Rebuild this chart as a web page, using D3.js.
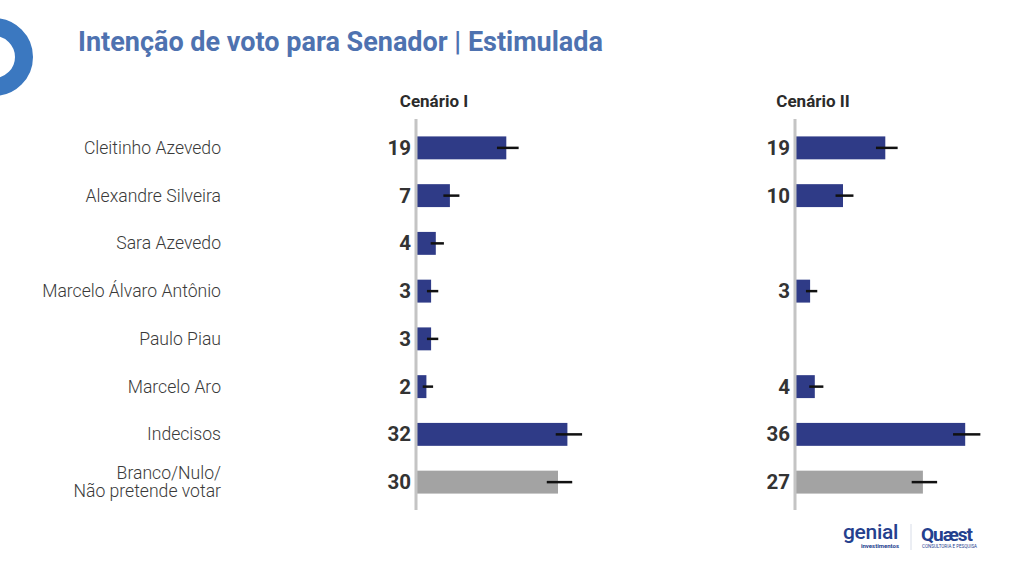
<!DOCTYPE html>
<html>
<head>
<meta charset="utf-8">
<script src="https://cdn.jsdelivr.net/npm/d3@7"></script>
<style>
  body { margin: 0; background: #fff; }
  svg { display: block; font-family: Roboto, "Noto Sans", sans-serif; }
</style>
</head>
<body>
<div id="chart"></div>
<script>
// Data
const candidates = ["Cleitinho Azevedo", "Alexandre Silveira", "Sara Azevedo", "Marcelo Álvaro Antônio",
    "Paulo Piau", "Marcelo Aro", "Indecisos", "Branco/Nulo/|Não pretende votar"];
const scenarios = ["Cenário I", "Cenário II"];
const valuesI = [19, 7, 4, 3, 3, 2, 32, 30];
const valuesII = [19, 10, null, 3, null, 4, 36, 27];
// margin of error (points), estimated from the black whiskers
const errorsI = [2.2, 1.6, 1.3, 1.1, 1.1, 1.0, 2.7, 2.6];
const errorsII = [2.2, 1.8, null, 1.1, null, 1.4, 2.8, 2.6];

const width = 1024;
const height = 574;

const svg = d3.select("#chart")
    .append("svg")
    .attr("width", width)
    .attr("height", height);

// decorative ring at the left edge
svg.append("circle")
    .attr("cx", -6)
    .attr("cy", 57)
    .attr("r", 30)
    .attr("fill", "none")
    .attr("stroke", "#3b78c0")
    .attr("stroke-width", 18);

// Title
svg.append("text")
    .attr("x", 78)
    .attr("y", 51)
    .style("font-size", "27px")
    .style("font-weight", "bold")
    .style("fill", "#4e72b0")
    .text("Intenção de voto para Senador | Estimulada");

// shared scales
const yScale = d3.scaleBand()
    .domain(candidates)
    .range([124, 506])
    .paddingInner(0.52)
    .paddingOuter(0.26);

const xScale = d3.scaleLinear()
    .domain([0, 40])
    .range([0, 188]);

// category labels
const labels = svg.append("g");
candidates.forEach(c => {
    const lines = c.split("|");
    const cy = yScale(c) + yScale.bandwidth() / 2;
    const t = labels.append("text")
        .attr("x", 221)
        .attr("y", cy + 6 - (lines.length - 1) * 9)
        .style("text-anchor", "end")
        .style("font-size", "17.6px")
        .style("font-weight", 300)
        .style("fill", "#3a3a3a");
    lines.forEach((l, i) => {
        t.append("tspan")
            .attr("x", 221)
            .attr("dy", i === 0 ? 0 : 18)
            .text(l);
    });
});

const panels = [
    { name: scenarios[0], x0: 417, values: valuesI, errors: errorsI },
    { name: scenarios[1], x0: 796, values: valuesII, errors: errorsII }
];

panels.forEach(p => {
    const g = svg.append("g")
        .attr("transform", `translate(${p.x0}, 0)`);

    const rows = candidates.map((c, i) => ({ cat: c, value: p.values[i], err: p.errors[i], i: i }))
        .filter(d => d.value !== null);

    // panel header
    g.append("text")
        .attr("x", 17)
        .attr("y", 107)
        .style("text-anchor", "middle")
        .style("font-size", "17px")
        .style("font-weight", "bold")
        .style("fill", "#2b2b2b")
        .text(p.name);

    // bars
    g.selectAll(".bar")
        .data(rows)
        .join("rect")
        .attr("class", "bar")
        .attr("x", xScale(0))
        .attr("y", d => yScale(d.cat))
        .attr("width", d => xScale(d.value))
        .attr("height", yScale.bandwidth())
        .attr("fill", d => d.i === candidates.length - 1 ? "#a3a3a3" : "#2f3b87");

    // error whiskers
    g.selectAll(".err")
        .data(rows)
        .join("line")
        .attr("class", "err")
        .attr("x1", d => xScale(d.value - d.err) + 1)
        .attr("x2", d => xScale(d.value + d.err) + 2)
        .attr("y1", d => yScale(d.cat) + yScale.bandwidth() / 2)
        .attr("y2", d => yScale(d.cat) + yScale.bandwidth() / 2)
        .attr("stroke", "#111")
        .attr("stroke-width", 2.5);

    // baseline
    g.append("line")
        .attr("x1", -1)
        .attr("x2", -1)
        .attr("y1", 119)
        .attr("y2", 510)
        .attr("stroke", "#c4c4c4")
        .attr("stroke-width", 3);

    // value labels
    g.selectAll(".val")
        .data(rows)
        .join("text")
        .attr("class", "val")
        .attr("x", -6)
        .attr("y", d => yScale(d.cat) + yScale.bandwidth() / 2 + 7)
        .style("text-anchor", "end")
        .style("font-size", "20.5px")
        .style("font-weight", "bold")
        .style("fill", "#333")
        .text(d => d.value);
});

// logos (as text)
const logo = svg.append("g");
logo.append("text")
    .attr("x", 843)
    .attr("y", 539)
    .style("font-size", "21px")
    .style("font-weight", 500)
    .style("letter-spacing", "-0.3px")
    .style("fill", "#24408e")
    .text("genial");
logo.append("text")
    .attr("x", 899)
    .attr("y", 548)
    .style("text-anchor", "end")
    .style("font-size", "6px")
    .style("font-weight", "bold")
    .style("fill", "#24408e")
    .text("investimentos");
logo.append("line")
    .attr("x1", 911).attr("x2", 911)
    .attr("y1", 524).attr("y2", 550)
    .attr("stroke", "#d8dde8")
    .attr("stroke-width", 1);
logo.append("text")
    .attr("x", 921)
    .attr("y", 541)
    .style("font-size", "19px")
    .style("font-weight", "bold")
    .style("letter-spacing", "-1px")
    .style("fill", "#24408e")
    .text("Quæst");
logo.append("text")
    .attr("x", 922)
    .attr("y", 548)
    .style("font-size", "4.5px")
    .style("fill", "#24408e")
    .text("CONSULTORIA E PESQUISA");
</script>
</body>
</html>
